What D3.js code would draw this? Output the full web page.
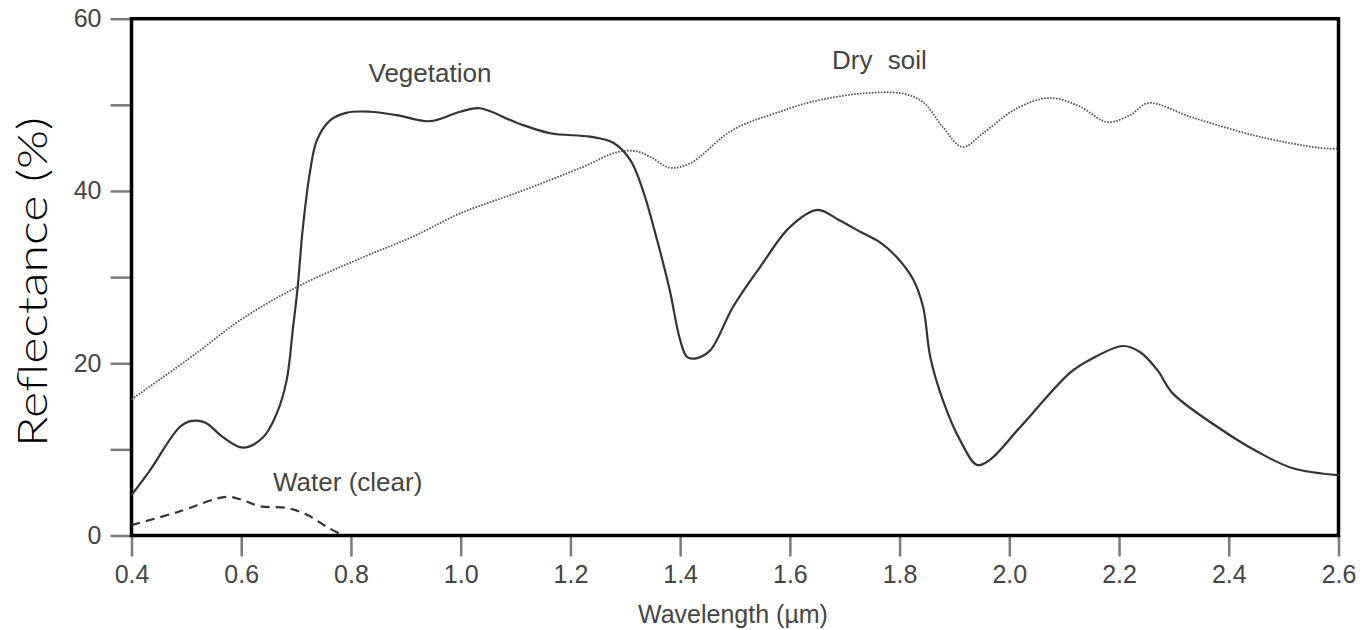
<!DOCTYPE html>
<html>
<head>
<meta charset="utf-8">
<script src="https://cdn.jsdelivr.net/npm/d3@7"></script>
<style>
  html, body { margin: 0; padding: 0; background: #fff; }
  svg { display: block; }
</style>
</head>
<body>
<svg id="chart" width="1363" height="630"></svg>
<script>
// ---- Data ----
const vegWavelength = [0.40,0.434,0.488,0.51,0.535,0.565,0.603,0.64,0.665,0.683,0.694,0.703,0.712,0.725,0.738,0.762,0.793,0.835,0.884,0.944,0.999,1.035,1.103,1.163,1.236,1.278,1.309,1.332,1.358,1.381,1.40,1.413,1.431,1.455,1.496,1.546,1.60,1.65,1.69,1.73,1.765,1.795,1.825,1.843,1.856,1.879,1.91,1.941,1.965,2.02,2.111,2.147,2.207,2.238,2.27,2.298,2.396,2.456,2.517,2.60];
const vegReflectance = [4.7,7.6,12.6,13.3,13.1,11.5,10.2,11.4,14.2,18.1,23.9,28.9,35.5,42.1,45.9,48.2,49.1,49.2,48.8,48.1,49.2,49.6,47.9,46.7,46.3,45.6,43.6,40.1,34.3,28.5,22.7,20.7,20.6,21.5,26.5,31.2,35.8,37.8,36.6,35.2,34.0,32.3,29.7,26.5,20.7,15.7,11.1,8.2,8.8,12.6,18.9,20.4,22.0,21.3,19.2,16.5,11.9,9.6,7.8,7.0];

const soilWavelength = [0.40,0.519,0.598,0.703,0.822,0.913,0.999,1.103,1.223,1.285,1.321,1.35,1.381,1.418,1.496,1.582,1.637,1.728,1.806,1.843,1.879,1.915,1.952,2.014,2.074,2.129,2.178,2.22,2.253,2.335,2.456,2.566,2.60];
const soilReflectance = [15.8,21.2,25.0,28.9,32.3,34.7,37.4,39.8,42.8,44.5,44.6,43.8,42.7,43.2,47.1,49.2,50.3,51.3,51.3,50.3,47.4,45.1,46.7,49.6,50.8,49.8,48.0,48.8,50.2,48.5,46.3,45.0,44.9];

const waterWavelength = [0.40,0.483,0.574,0.603,0.634,0.683,0.72,0.756,0.786];
const waterReflectance = [1.2,2.7,4.5,4.1,3.4,3.2,2.4,1.0,0.0];

const xTicks = [0.4,0.6,0.8,1.0,1.2,1.4,1.6,1.8,2.0,2.2,2.4,2.6];
const yTicks = [0,10,20,30,40,50,60];
const yTickLabels = [0,20,40,60];

const labels = [
  {text: "Vegetation", wl: 0.944, val: 52.65, anchor: "middle"},
  {text: "Dry soil", wl: 1.677, val: 54.16, anchor: "start"},
  {text: "Water (clear)", wl: 0.658, val: 5.17, anchor: "start"}
];

// ---- Layout ----
const svg = d3.select("#chart");
const pLeft = 131.5, pRight = 1338.5, pTop = 18.7, pBottom = 535.5;

const x = d3.scaleLinear().domain([0.4, 2.6]).range([pLeft, pRight]);
const y = d3.scaleLinear().domain([0, 60]).range([pBottom, pTop]);

const tickColor = "#7a7a7a";
const textColor = "#444";
const fontFam = "'Liberation Sans', Arial, Helvetica, sans-serif";

// axes
const xAxis = d3.axisBottom(x).tickValues(xTicks).tickSize(21).tickPadding(9)
  .tickFormat(d3.format(".1f"));
const gx = svg.append("g").attr("transform", `translate(0,${pBottom})`).call(xAxis);

const yAxis = d3.axisLeft(y).tickValues(yTicks).tickSize(21).tickPadding(9)
  .tickFormat(d => yTickLabels.includes(d) ? d : "");
const gy = svg.append("g").attr("transform", `translate(${pLeft},0)`).call(yAxis);

[gx, gy].forEach(g => {
  g.select(".domain").remove();
  g.selectAll(".tick line").attr("stroke", tickColor).attr("stroke-width", 2.5);
  g.selectAll(".tick text").attr("fill", textColor)
    .style("font-family", fontFam).style("font-size", "25px");
});

// frame
svg.append("rect")
  .attr("x", pLeft).attr("y", pTop)
  .attr("width", pRight - pLeft).attr("height", pBottom - pTop)
  .attr("fill", "none").attr("stroke", "#000").attr("stroke-width", 3.5);

// lines
const line = d3.line().x(d => x(d[0])).y(d => y(d[1])).curve(d3.curveCatmullRom.alpha(0.5));

svg.append("path")
  .datum(soilWavelength.map((w, i) => [w, soilReflectance[i]]))
  .attr("d", line).attr("fill", "none")
  .attr("stroke", "#555").attr("stroke-width", 1.8)
  .attr("stroke-dasharray", "1.6,1.4");

svg.append("path")
  .datum(vegWavelength.map((w, i) => [w, vegReflectance[i]]))
  .attr("d", line).attr("fill", "none")
  .attr("stroke", "#333").attr("stroke-width", 2.2);

svg.append("path")
  .datum(waterWavelength.map((w, i) => [w, waterReflectance[i]]))
  .attr("d", line).attr("fill", "none")
  .attr("stroke", "#333").attr("stroke-width", 2.2)
  .attr("stroke-dasharray", "9,6");

// annotations
svg.selectAll("text.anno").data(labels).enter().append("text")
  .attr("class", "anno")
  .attr("x", d => x(d.wl)).attr("y", d => y(d.val))
  .attr("text-anchor", d => d.anchor)
  .attr("fill", textColor)
  .style("font-family", fontFam).style("font-size", "26px")
  .style("word-spacing", d => d.text === "Dry soil" ? "8px" : "0px")
  .text(d => d.text);

// axis titles
svg.append("text")
  .attr("x", (pLeft + pRight) / 2 - 2).attr("y", 623)
  .attr("text-anchor", "middle").attr("fill", textColor)
  .style("font-family", fontFam).style("font-size", "25px")
  .text("Wavelength (\u00b5m)");

svg.append("text")
  .attr("transform", "translate(47,282) rotate(-90)")
  .attr("text-anchor", "middle").attr("fill", "#000")
  .attr("textLength", 330).attr("lengthAdjust", "spacingAndGlyphs")
  .style("font-family", "Lato, 'Open Sans', sans-serif").style("font-size", "42px")
  .style("font-weight", 300)
  .text("Reflectance (%)");
</script>
</body>
</html>
